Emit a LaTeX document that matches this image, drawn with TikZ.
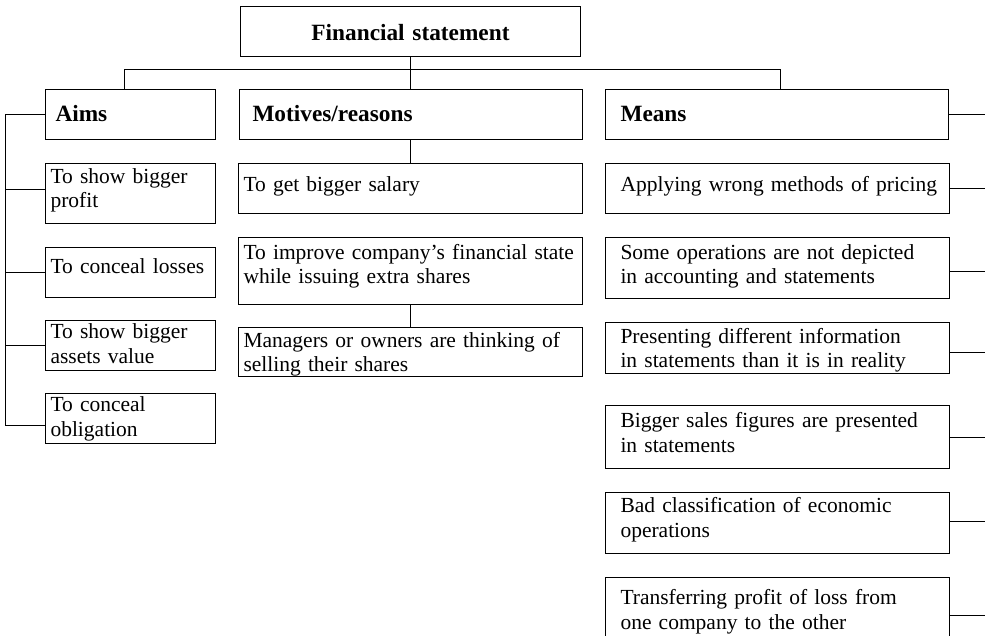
\documentclass[tikz,border=0pt]{standalone}
\usepackage{fontspec}
\setmainfont{Liberation Serif}
\usetikzlibrary{calc}
\tikzset{
  bx/.style={draw=black, line width=1pt, inner ysep=0pt, anchor=north west, align=left,
             font=\fontsize{21.5}{24.5}\selectfont},
  hd/.style={bx, font=\fontsize{23.3}{27}\selectfont\bfseries},
  tophd/.style={hd, align=center},
  ln/.style={draw=black, line width=1pt},
}
% [style]{name}{x1}{y1}{x2}{y2}{padx}{baseline offset}{text}
\newcommand\mybox[9][bx]{%
  \pgfmathsetmacro\mybw{#5-#3-2*#7}%
  \pgfmathsetmacro\mybd{#6-#4-#8}%
  \node[#1, inner xsep=#7pt, text width=\mybw pt, text height=#8pt, text depth=\mybd pt] (#2) at (#3,#4) {#9};%
}
\begin{document}
\begin{tikzpicture}[x=1pt, y=-1pt]
\useasboundingbox (0,0) rectangle (985,636);
\clip (0,0) rectangle (985,636);

% top
\mybox[tophd]{top}{240}{6}{580}{56}{5}{34}{Financial statement}
% headers
\mybox[hd]{aims}{45}{89}{215}{139}{10}{32}{Aims}
\mybox[hd]{mot}{239}{89}{582}{139}{13}{32}{Motives/reasons}
\mybox[hd]{means}{605}{89}{948}{139}{15}{32}{Means}

% aims children
\mybox{a1}{45}{163}{215}{223}{5}{20}{To show bigger\\profit}
\mybox{a2}{45}{247}{215}{297}{5}{26}{To conceal losses}
\mybox{a3}{45}{320}{215}{370}{5}{18}{To show bigger\\assets value}
\mybox{a4}{45}{393}{215}{443}{5}{18}{To conceal\\obligation}

% motives children
\mybox{m1}{238}{163}{582}{213}{5}{28}{To get bigger salary}
\mybox{m2}{238}{237}{582}{304}{5}{22}{\mbox{To improve company’s financial state}\\while issuing extra shares}
\mybox{m3}{238}{327}{582}{376}{5}{20}{\mbox{Managers or owners are thinking of}\\selling their shares}

% means children
\mybox{n1}{605}{163}{949}{213}{15}{28}{\mbox{Applying wrong methods of pricing}}
\mybox{n2}{605}{237}{949}{298}{15}{22}{\mbox{Some operations are not depicted}\\in accounting and statements}
\mybox{n3}{605}{322}{949}{373}{15}{21}{\mbox{Presenting different information}\\\mbox{in statements than it is in reality}}
\mybox{n4}{605}{405}{949}{468}{15}{22}{\mbox{Bigger sales figures are presented}\\in statements}
\mybox{n5}{605}{492}{949}{553}{15}{20}{\mbox{Bad classification of economic}\\operations}
\mybox{n6}{605}{577}{949}{652}{15}{27}{\mbox{Transferring profit of loss from}\\one company to the other}

% top-level connectors
\coordinate (bus) at (0,70);
\coordinate (bA) at ($(aims.north)+(-6,0)$);
\coordinate (bM) at ($(means.north)+(3.5,0)$);
\draw[ln] (top.south) -- (top.south |- mot.north);
\draw[ln] (bA) -- (bA |- bus) -- (bM |- bus) -- (bM);

% left bus
\coordinate (L) at (5,0);
\coordinate (a1s) at ($(a1.west)+(0,-4)$);
\coordinate (a4s) at ($(a4.west)+(0,7)$);
\draw[ln] (aims.west) -| (L |- a4s) -- (a4s);
\draw[ln] (a1s) -- (a1s -| L);
\draw[ln] (a2.west) -- (a2.west -| L);
\draw[ln] (a3.west) -- (a3.west -| L);

% motives chain
\draw[ln] (m1.north |- mot.south) -- (m1.north);
\draw[ln] (m2.south) -- (m3.north);

% right stubs
\coordinate (R) at (985,0);
\coordinate (n2s) at ($(n2.east)+(0,3.5)$);
\coordinate (n3s) at ($(n3.east)+(0,4.5)$);
\coordinate (n5s) at ($(n5.east)+(0,-1.5)$);
\draw[ln] (means.east) -- (means.east -| R);
\draw[ln] (n1.east) -- (n1.east -| R);
\draw[ln] (n2s) -- (n2s -| R);
\draw[ln] (n3s) -- (n3s -| R);
\draw[ln] (n4.east) -- (n4.east -| R);
\draw[ln] (n5s) -- (n5s -| R);
\draw[ln] (n6.east) -- (n6.east -| R);
\end{tikzpicture}
\end{document}
